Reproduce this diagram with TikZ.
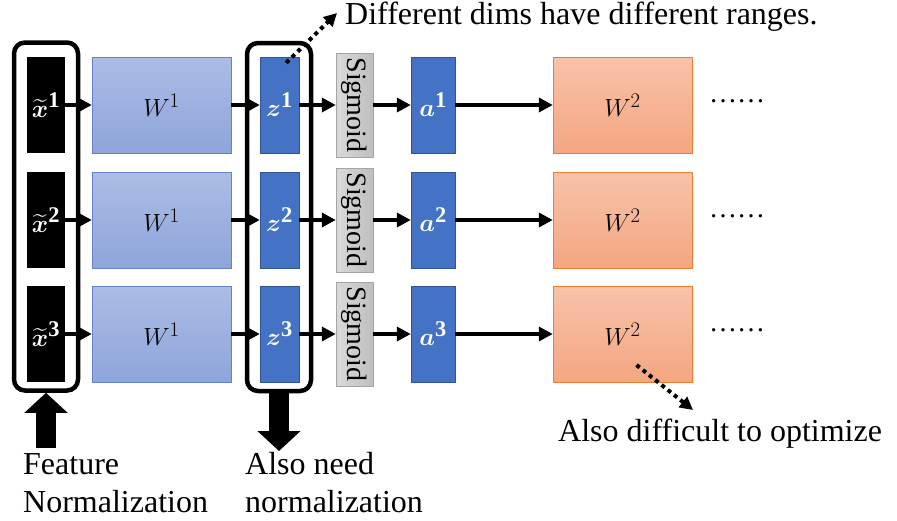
\documentclass[tikz,border=0pt]{standalone}
\usepackage{amsmath}
\usepackage{fontspec}
\setmainfont{Liberation Serif}
\usetikzlibrary{arrows.meta}
\definecolor{wonetop}{RGB}{172,188,229}
\definecolor{wonebot}{RGB}{142,165,219}
\definecolor{woneline}{RGB}{100,130,200}
\definecolor{vecfill}{RGB}{68,114,196}
\definecolor{vecline}{RGB}{47,85,151}
\definecolor{sgtop}{RGB}{218,218,218}
\definecolor{sgbot}{RGB}{190,190,190}
\definecolor{sgline}{RGB}{165,165,165}
\definecolor{wtwotop}{RGB}{248,194,170}
\definecolor{wtwobot}{RGB}{244,166,128}
\definecolor{wtwoline}{RGB}{237,125,49}

\begin{document}
\begin{tikzpicture}[x=1pt, y=-1pt,
        inbox/.style={fill=black, minimum width=38pt, minimum height=96pt, inner sep=0pt, text=white, font=\fontsize{32}{38}\selectfont},
        wonebox/.style={draw=woneline, top color=wonetop, bottom color=wonebot, minimum width=139pt, minimum height=96pt, font=\fontsize{32}{38}\selectfont},
        vecbox/.style={draw=vecline, fill=vecfill, minimum width=39pt, minimum height=96pt, inner sep=0pt, text=white, font=\fontsize{32}{38}\selectfont},
        sgbox/.style={draw=sgline, left color=sgtop, right color=sgbot, rotate=-90, minimum width=104pt, minimum height=37pt, inner sep=0pt, font=\fontsize{28}{32}\selectfont},
        wtwobox/.style={draw=wtwoline, top color=wtwotop, bottom color=wtwobot, minimum width=139pt, minimum height=96pt, font=\fontsize{32}{38}\selectfont},
        dots/.style={anchor=base, inner sep=0pt, font=\fontsize{28}{34}\selectfont},
        groupbox/.style={draw, line width=4.5pt, rounded corners=11pt, minimum width=64pt, minimum height=348pt},
        flow/.style={line width=3.6pt, -{Triangle[length=14pt, width=14pt]}},
        bigarrow/.style={line width=20pt, -{Triangle[length=20pt, width=42pt]}},
        dotarrow/.style={line width=4pt, dash pattern=on 4pt off 4pt, -{Triangle[length=13pt, width=13pt]}},
        lbl/.style={font=\fontsize{32}{38}\selectfont, inner sep=0pt}]
        \useasboundingbox (0, 0) rectangle (897, 520);
        % first row
        \node[inbox] (xin1) at (46, 105) {$\widetilde{\boldsymbol{x}}^{\mathbf{1}}$};
        \node[wonebox] (wone1) at (161.5, 105) {$W^1$};
        \node[vecbox] (z1) at (279.5, 105) {$\boldsymbol{z}^{\mathbf{1}}$};
        \node[sgbox] (sg1) at (354.5, 105) {Sigmoid};
        \node[vecbox, minimum width=44pt] (a1) at (433, 105) {$\boldsymbol{a}^{\mathbf{1}}$};
        \node[wtwobox] (wtwo1) at (622.5, 105) {$W^2$};
        \node[dots] (dots1) at (737, 102) {……};
        % second row
        \node[inbox] (xin2) at (46, 220) {$\widetilde{\boldsymbol{x}}^{\mathbf{2}}$};
        \node[wonebox] (wone2) at (161.5, 220) {$W^1$};
        \node[vecbox] (z2) at (279.5, 220) {$\boldsymbol{z}^{\mathbf{2}}$};
        \node[sgbox] (sg2) at (354.5, 220) {Sigmoid};
        \node[vecbox, minimum width=44pt] (a2) at (433, 220) {$\boldsymbol{a}^{\mathbf{2}}$};
        \node[wtwobox] (wtwo2) at (622.5, 220) {$W^2$};
        \node[dots] (dots2) at (737, 217) {……};
        % third row
        \node[inbox] (xin3) at (46, 334) {$\widetilde{\boldsymbol{x}}^{\mathbf{3}}$};
        \node[wonebox] (wone3) at (161.5, 334) {$W^1$};
        \node[vecbox] (z3) at (279.5, 334) {$\boldsymbol{z}^{\mathbf{3}}$};
        \node[sgbox] (sg3) at (354.5, 334) {Sigmoid};
        \node[vecbox, minimum width=44pt] (a3) at (433, 334) {$\boldsymbol{a}^{\mathbf{3}}$};
        \node[wtwobox] (wtwo3) at (622.5, 334) {$W^2$};
        \node[dots] (dots3) at (737, 331) {……};
        % arrows along the rows
        \draw[flow] (xin1) -- (wone1);
        \draw[flow] (wone1) -- (z1);
        \draw[flow] (z1) -- (sg1);
        \draw[flow] (sg1) -- (a1);
        \draw[flow] (a1) -- (wtwo1);
        \draw[flow] (xin2) -- (wone2);
        \draw[flow] (wone2) -- (z2);
        \draw[flow] (z2) -- (sg2);
        \draw[flow] (sg2) -- (a2);
        \draw[flow] (a2) -- (wtwo2);
        \draw[flow] (xin3) -- (wone3);
        \draw[flow] (wone3) -- (z3);
        \draw[flow] (z3) -- (sg3);
        \draw[flow] (sg3) -- (a3);
        \draw[flow] (a3) -- (wtwo3);
        % groups
        \node[groupbox] (lbox) at (46, 216.5) {};
        \node[groupbox] (zbox) at (279, 217) {};
        % labels
        \node[lbl, anchor=west] (dimlbl) at (345, 17) {Different dims have different ranges.};
        \node[lbl, anchor=west] (optlbl) at (558, 434) {Also difficult to optimize};
        \node[lbl, anchor=north west, align=left] (featlbl) at (23, 453) {Feature\\Normalization};
        \node[lbl, anchor=north west, align=left] (needlbl) at (245, 452) {Also need\\normalization};
        \coordinate (opttip) at (693, 410);
        \draw[bigarrow] ([yshift=5pt]featlbl.north -| lbox.south) -- (lbox.south);
        \draw[bigarrow] (zbox.south) -- ([yshift=1pt]needlbl.north -| zbox.south);
        \draw[dotarrow] ([shift={(-13, 6)}]z1.north east) -- ([shift={(-8, -4)}]dimlbl.west);
        \draw[dotarrow] ([shift={(14, 31)}]wtwo3.center) -- (opttip);
    \end{tikzpicture}
\end{document}
